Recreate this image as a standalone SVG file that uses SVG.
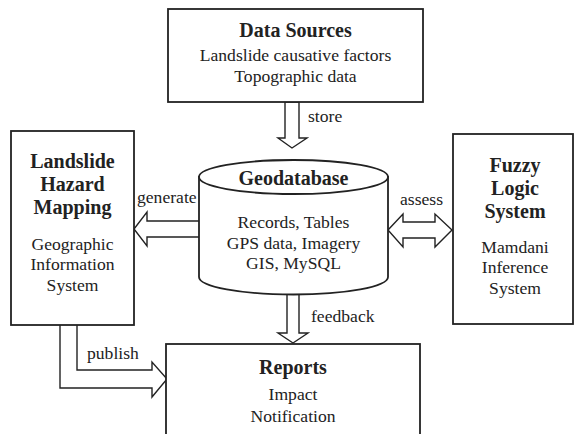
<svg xmlns="http://www.w3.org/2000/svg" width="575" height="434" viewBox="0 0 575 434">
<style>
.box{fill:#fff;stroke:#222;stroke-width:1.8}
.arr{fill:#fff;stroke:#222;stroke-width:1.4;stroke-linejoin:miter}
text{font-family:"Liberation Serif","Times New Roman",serif;fill:#222}
.t{font-size:20px;font-weight:bold;text-anchor:middle}
.b{font-size:17.6px;text-anchor:middle}
.l{font-size:17.6px}
</style>
<rect width="575" height="434" fill="#fff"/>
<g id="connectors">
<polygon class="arr" points="285,102 299,102 299,138 307,138 292,148 278,138 285,138"/>
<polygon class="arr" points="201,221 147,221 147,212 134,229 147,246 147,237 201,237"/>
<polygon class="arr" points="388,230 403,214 403,222 435,222 435,214 452,230 435,247 435,238 403,238 403,247"/>
<polygon class="arr" points="287,290 299,290 299,333 308,333 293,343 278,333 287,333"/>
<polyline class="arr" points="60,325 60,388 152,388 152,397 167,379 152,362 152,370 77,370 77,325"/>
<text class="l" x="308" y="122">store</text>
<text class="l" x="137" y="203">generate</text>
<text class="l" x="400" y="205">assess</text>
<text class="l" x="311" y="322">feedback</text>
<text class="l" x="87" y="359">publish</text>
</g>
<g id="data-sources">
<rect class="box" x="168" y="9" width="255" height="93"/>
<text class="t" x="295.5" y="37">Data Sources</text>
<text class="b" x="295.5" y="61">Landslide causative factors</text>
<text class="b" x="295.5" y="82">Topographic data</text>
</g>
<g id="geodatabase">
<path class="box" d="M199,177 L199,277 A94.5,17.5 0 0 0 388,277 L388,177 Z"/>
<ellipse class="box" cx="293.5" cy="177" rx="94.5" ry="17"/>
<text class="t" x="293.5" y="185">Geodatabase</text>
<text class="b" x="293.5" y="228">Records, Tables</text>
<text class="b" x="293.5" y="249">GPS data, Imagery</text>
<text class="b" x="293.5" y="269">GIS, MySQL</text>
</g>
<g id="hazard-mapping">
<rect class="box" x="11" y="131" width="123" height="194"/>
<text class="t" x="72.5" y="168">Landslide</text>
<text class="t" x="72.5" y="191">Hazard</text>
<text class="t" x="72.5" y="214">Mapping</text>
<text class="b" x="72.5" y="250">Geographic</text>
<text class="b" x="72.5" y="270">Information</text>
<text class="b" x="72.5" y="291">System</text>
</g>
<g id="fuzzy-logic">
<rect class="box" x="453" y="134" width="120" height="190"/>
<text class="t" x="515" y="172">Fuzzy</text>
<text class="t" x="515" y="195">Logic</text>
<text class="t" x="515" y="218">System</text>
<text class="b" x="515" y="253">Mamdani</text>
<text class="b" x="515" y="273">Inference</text>
<text class="b" x="515" y="294">System</text>
</g>
<g id="reports">
<rect class="box" x="166" y="344" width="254" height="100"/>
<text class="t" x="293" y="374">Reports</text>
<text class="b" x="293" y="400">Impact</text>
<text class="b" x="293" y="422">Notification</text>
</g>
</svg>
